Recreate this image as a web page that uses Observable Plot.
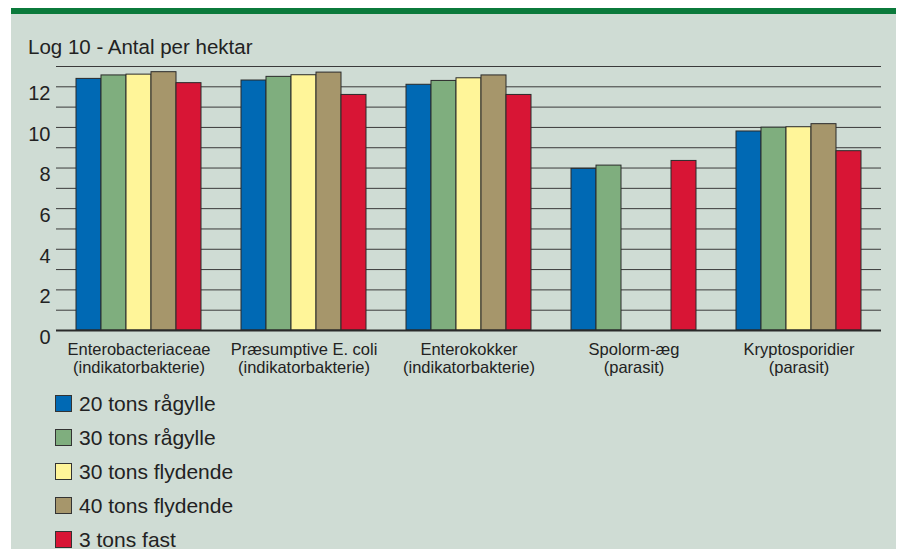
<!DOCTYPE html>
<html><head><meta charset="utf-8">
<script src="https://cdn.jsdelivr.net/npm/d3@7"></script>
<script src="https://cdn.jsdelivr.net/npm/@observablehq/plot@0.6"></script>
<style>
html,body{margin:0;padding:0;background:#fff;width:901px;height:549px;overflow:hidden;font-family:"Liberation Sans",Arial,sans-serif;color:#222;}
#panel{position:absolute;left:11px;top:8px;width:885px;height:541px;background:#cfdcd4;border-top:6px solid #0b7a3b;box-sizing:border-box;}
#title{position:absolute;left:28px;top:36px;font-size:20.5px;line-height:22px;white-space:nowrap;}
#chart{position:absolute;left:0;top:58px;}
#legend{position:absolute;left:55px;top:386px;}
.item{display:flex;align-items:center;height:34px;}
.item .sw{width:17px;height:17px;border:1px solid #333;box-sizing:border-box;margin-right:7px;}
.item span{font-size:21px;line-height:17px;white-space:nowrap;}
</style>
</head><body>
<div id="panel"></div>
<div id="title">Log 10 - Antal per hektar</div>
<div id="chart"></div>
<div id="legend"></div>
<script>
const categories = ["Enterobacteriaceae\n(indikatorbakterie)", "Præsumptive E. coli\n(indikatorbakterie)", "Enterokokker\n(indikatorbakterie)", "Spolorm-æg\n(parasit)", "Kryptosporidier\n(parasit)"];
const series = ["20 tons rågylle", "30 tons rågylle", "30 tons flydende", "40 tons flydende", "3 tons fast"];
const colors = ["#0069b4", "#7fae7e", "#fff599", "#a6966b", "#d81535"];
const v20raa = [12.39, 12.31, 12.10, 7.96, 9.80];
const v30raa = [12.56, 12.49, 12.29, 8.12, 9.99];
const v30fly = [12.60, 12.57, 12.42, null, 10.01];
const v40fly = [12.72, 12.70, 12.56, null, 10.16];
const v3fast = [12.18, 11.60, 11.60, 8.35, 8.83];
const yTicks = [0, 2, 4, 6, 8, 10, 12];
const gridValues = d3.range(0, 14);

const seriesValues = [v20raa, v30raa, v30fly, v40fly, v3fast];
const rows = [];
categories.forEach((c, i) => series.forEach((s, j) => {
  const v = seriesValues[j][i];
  if (v != null) rows.push({category: c, series: s, value: v});
}));

const chart = Plot.plot({
  width: 901, height: 330,
  marginLeft: 55, marginRight: 20, marginTop: 8, marginBottom: 58,
  style: {background: "transparent", fontFamily: "Liberation Sans, Arial, sans-serif", color: "#222"},
  fx: {domain: categories, padding: 0, label: null},
  x: {domain: series, axis: null, paddingInner: 0, paddingOuter: 0.725},
  y: {domain: [0, 13], axis: null, label: null},
  color: {domain: series, range: colors},
  marks: [
    Plot.ruleY(gridValues, {stroke: "#3a3a3a", strokeWidth: 1}),
    Plot.barY(rows, {fx: "category", x: "series", y: "value", fill: "series", stroke: "#2a2a2a", strokeWidth: 1}),
    Plot.ruleY([0], {stroke: "#2a2a2a", strokeWidth: 2}),
    Plot.axisY(yTicks, {tickSize: 0, tickPadding: 6, fontSize: 20, dy: 7, fill: "#222", label: null}),
    Plot.axisFx({anchor: "bottom", tickSize: 0, tickPadding: 11, fontSize: 16.5, lineHeight: 1.13, fill: "#222", label: null})
  ]
});
document.getElementById("chart").appendChild(chart);

const legend = document.getElementById("legend");
series.forEach((s, i) => {
  const d = document.createElement("div");
  d.className = "item";
  const sw = document.createElement("div");
  sw.className = "sw";
  sw.style.background = colors[i];
  const t = document.createElement("span");
  t.textContent = s;
  d.appendChild(sw); d.appendChild(t);
  legend.appendChild(d);
});
</script>
</body></html>
